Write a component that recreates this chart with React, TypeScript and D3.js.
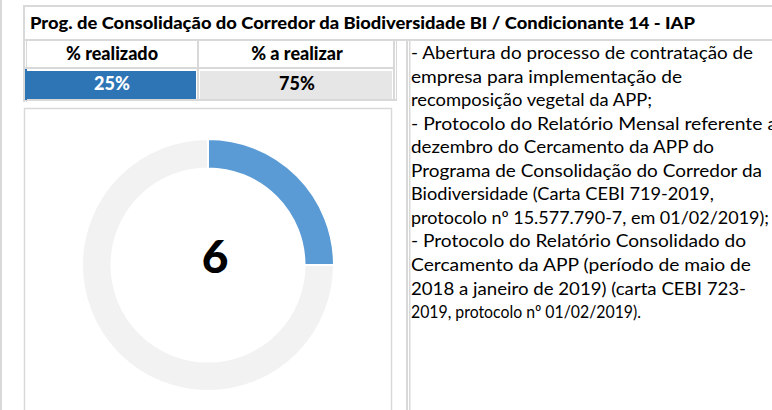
import React from "react";
import * as d3 from "d3";

const title = "Prog. de Consolidação do Corredor da Biodiversidade BI / Condicionante 14 - IAP";
const headers = ["% realizado", "% a realizar"];
const shareLabels = ["25%", "75%"];
const shareValues = [25, 75];
const centerValue = "6";
const noteLines = [
  "- Abertura do processo de contratação de",
  "empresa para implementação de",
  "recomposição vegetal da APP;",
  "- Protocolo do Relatório Mensal referente a",
  "dezembro do Cercamento da APP do",
  "Programa de Consolidação do Corredor da",
  "Biodiversidade (Carta CEBI 719-2019,",
  "protocolo nº 15.577.790-7, em 01/02/2019);",
  "- Protocolo do Relatório Consolidado do",
  "Cercamento da APP (período de maio de",
  "2018 a janeiro de 2019) (carta CEBI 723-",
  "2019, protocolo nº 01/02/2019).",
];
const noteWidths = [342, 271, 241, 366, 303, 351, 303, 358, 335, 340, 335, 230];

const W = 772;
const H = 410;
const FONT = "Lato, 'Open Sans', sans-serif";
const BORDER = "#d9d9d9";

export default function App() {
  const cx = 208;
  const cy = 265;
  const pie = d3.pie<number>().sort(null).startAngle(0).endAngle(2 * Math.PI)(shareValues);
  const arc = d3.arc<d3.PieArcDatum<number>>().innerRadius(96.5).outerRadius(126);
  const sliceColors = ["#5b9bd5", "#f2f2f2"];

  const colX = d3.scaleOrdinal<string, number>().domain(headers).range([112, 297]);

  return (
    <svg
      width={W}
      height={H}
      style={{ position: "absolute", left: 0, top: 0, background: "#fff" }}
      fontFamily={FONT}
    >
      <rect x={0} y={0} width={W} height={H} fill="#fff" />
      <rect x={0} y={0} width={2} height={H} fill={BORDER} />

      <rect x={23} y={5} width={W - 23} height={2} fill={BORDER} />
      <rect x={23} y={5} width={2} height={97} fill={BORDER} />
      <rect x={26} y={40} width={1} height={62} fill={BORDER} />
      <rect x={25} y={39} width={W - 25} height={2} fill={BORDER} />
      <rect x={25} y={67} width={370} height={2} fill={BORDER} />
      <rect x={23} y={99} width={373} height={2} fill={BORDER} />
      <rect x={197} y={41} width={2} height={59} fill={BORDER} />
      <rect x={393} y={41} width={2} height={60} fill={BORDER} />
      <rect x={396} y={41} width={1} height={60} fill={BORDER} />

      <rect x={27} y={71} width={169} height={28} fill="#2e75b6" />
      <rect x={25} y={69} width={2} height={31} fill="#2e75b6" />
      <rect x={200} y={71} width={192} height={28} fill="#e6e6e6" />

      <text x={30} y={28.5} fontSize={17.5} fontWeight={900} fill="#000" textLength={665} lengthAdjust="spacingAndGlyphs">
        {title}
      </text>

      {headers.map((h) => (
        <text key={h} x={colX(h)} y={60} fontSize={18} fontWeight={900} textAnchor="middle" fill="#000">
          {h}
        </text>
      ))}
      {shareLabels.map((s, i) => (
        <text
          key={s}
          x={colX(headers[i])}
          y={89.5}
          fontSize={18}
          fontWeight={900}
          textAnchor="middle"
          fill={i === 0 ? "#fff" : "#000"}
        >
          {s}
        </text>
      ))}

      <rect x={24.5} y={108.5} width={367} height={310} fill="#fff" stroke={BORDER} strokeWidth={1.5} />

      <g transform={`translate(${cx},${cy})`}>
        {pie.map((d, i) => (
          <path key={i} d={arc(d) || ""} fill={sliceColors[i]} stroke="#fff" strokeWidth={2} />
        ))}
        <text x={7} y={8} fontSize={46} fontWeight={900} textAnchor="middle" fill="#000">
          {centerValue}
        </text>
      </g>

      <rect x={406} y={41} width={2} height={H - 41} fill={BORDER} />
      <rect x={409} y={41} width={1.5} height={H - 41} fill={BORDER} />

      {noteLines.map((line, i) => (
        <text
          key={i}
          x={411}
          y={59 + i * 23.55}
          fontSize={18}
          fill="#000"
          textLength={noteWidths[i]}
          lengthAdjust="spacingAndGlyphs"
        >
          {line}
        </text>
      ))}
    </svg>
  );
}
